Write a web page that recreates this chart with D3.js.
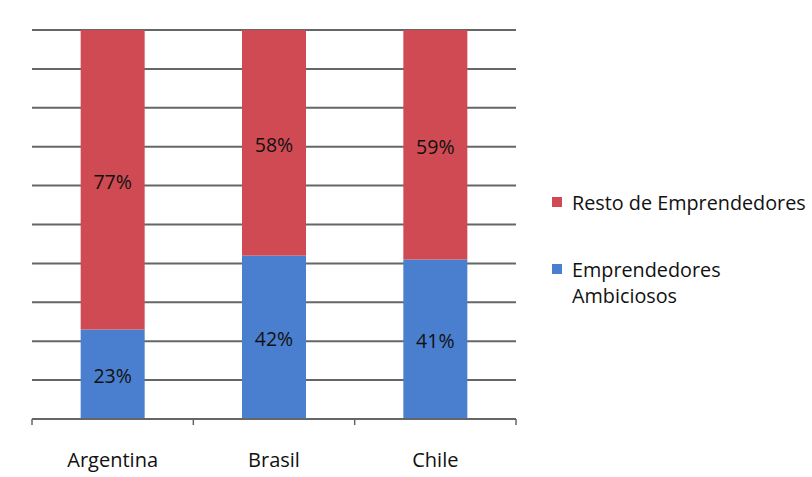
<!DOCTYPE html>
<html><head><meta charset="utf-8">
<script src="https://cdn.jsdelivr.net/npm/d3@7"></script>
<style>body{margin:0;background:#fff}svg{display:block}text{font-family:"Open Sans",Lato,sans-serif}</style>
</head><body>
<svg id="c" width="812" height="477"></svg>
<script>
const categories = ["Argentina", "Brasil", "Chile"];
const ambiciosos = [23, 42, 41];
const resto = [77, 58, 59];
const seriesNames = ["Emprendedores Ambiciosos", "Resto de Emprendedores"];
const colors = ["#4a7fcf", "#cf4a52"];

const svg = d3.select("#c");
const xOuter = d3.scaleBand().domain(categories).range([32, 516]);
const y = d3.scaleLinear().domain([0, 100]).range([419, 30]);

// gridlines
svg.append("g").selectAll("line").data(d3.range(10, 101, 10)).join("line")
  .attr("x1", 32).attr("x2", 516).attr("y1", d => y(d)).attr("y2", d => y(d))
  .attr("stroke", "#666").attr("stroke-width", 2);

const data = categories.map((c, i) => ({cat: c, a: ambiciosos[i], r: resto[i]}));
const stack = d3.stack().keys(["a", "r"])(data);

const bw = 64;
const g = svg.append("g");
stack.forEach((layer, li) => {
  g.selectAll(null).data(layer).join("rect")
    .attr("x", d => xOuter(d.data.cat) + xOuter.bandwidth() / 2 - bw / 2)
    .attr("width", bw)
    .attr("y", d => y(d[1]))
    .attr("height", d => y(d[0]) - y(d[1]))
    .attr("fill", colors[li]);
  g.selectAll(null).data(layer).join("text")
    .attr("x", d => xOuter(d.data.cat) + xOuter.bandwidth() / 2)
    .attr("y", d => (y(d[0]) + y(d[1])) / 2 + 9)
    .attr("text-anchor", "middle")
    .attr("font-size", 19.5).attr("fill", "#111")
    .text(d => (d[1] - d[0]) + "%");
});

// x axis
const ax = svg.append("g");
ax.append("line").attr("x1", 32).attr("x2", 516).attr("y1", 419).attr("y2", 419)
  .attr("stroke", "#666").attr("stroke-width", 2);
const tickXs = categories.map(c => xOuter(c)).concat([516]);
ax.selectAll(null).data(tickXs).join("line")
  .attr("x1", d => d).attr("x2", d => d).attr("y1", 419).attr("y2", 425)
  .attr("stroke", "#666").attr("stroke-width", 1.5);
ax.selectAll(null).data(categories).join("text")
  .attr("x", d => xOuter(d) + xOuter.bandwidth() / 2)
  .attr("y", 467).attr("text-anchor", "middle")
  .attr("font-size", 20).attr("fill", "#111").text(d => d);

// legend
const leg = svg.append("g");
leg.append("rect").attr("x", 552).attr("y", 197).attr("width", 10).attr("height", 10).attr("fill", colors[1]);
leg.append("text").attr("x", 572).attr("y", 210).attr("font-size", 19.8).attr("fill", "#111").text(seriesNames[1]);
leg.append("rect").attr("x", 552).attr("y", 264).attr("width", 10).attr("height", 10).attr("fill", colors[0]);
leg.append("text").attr("x", 572).attr("y", 277).attr("font-size", 19.8).attr("fill", "#111").text("Emprendedores");
leg.append("text").attr("x", 572).attr("y", 303).attr("font-size", 19.8).attr("fill", "#111").text("Ambiciosos");
</script>
</body></html>
